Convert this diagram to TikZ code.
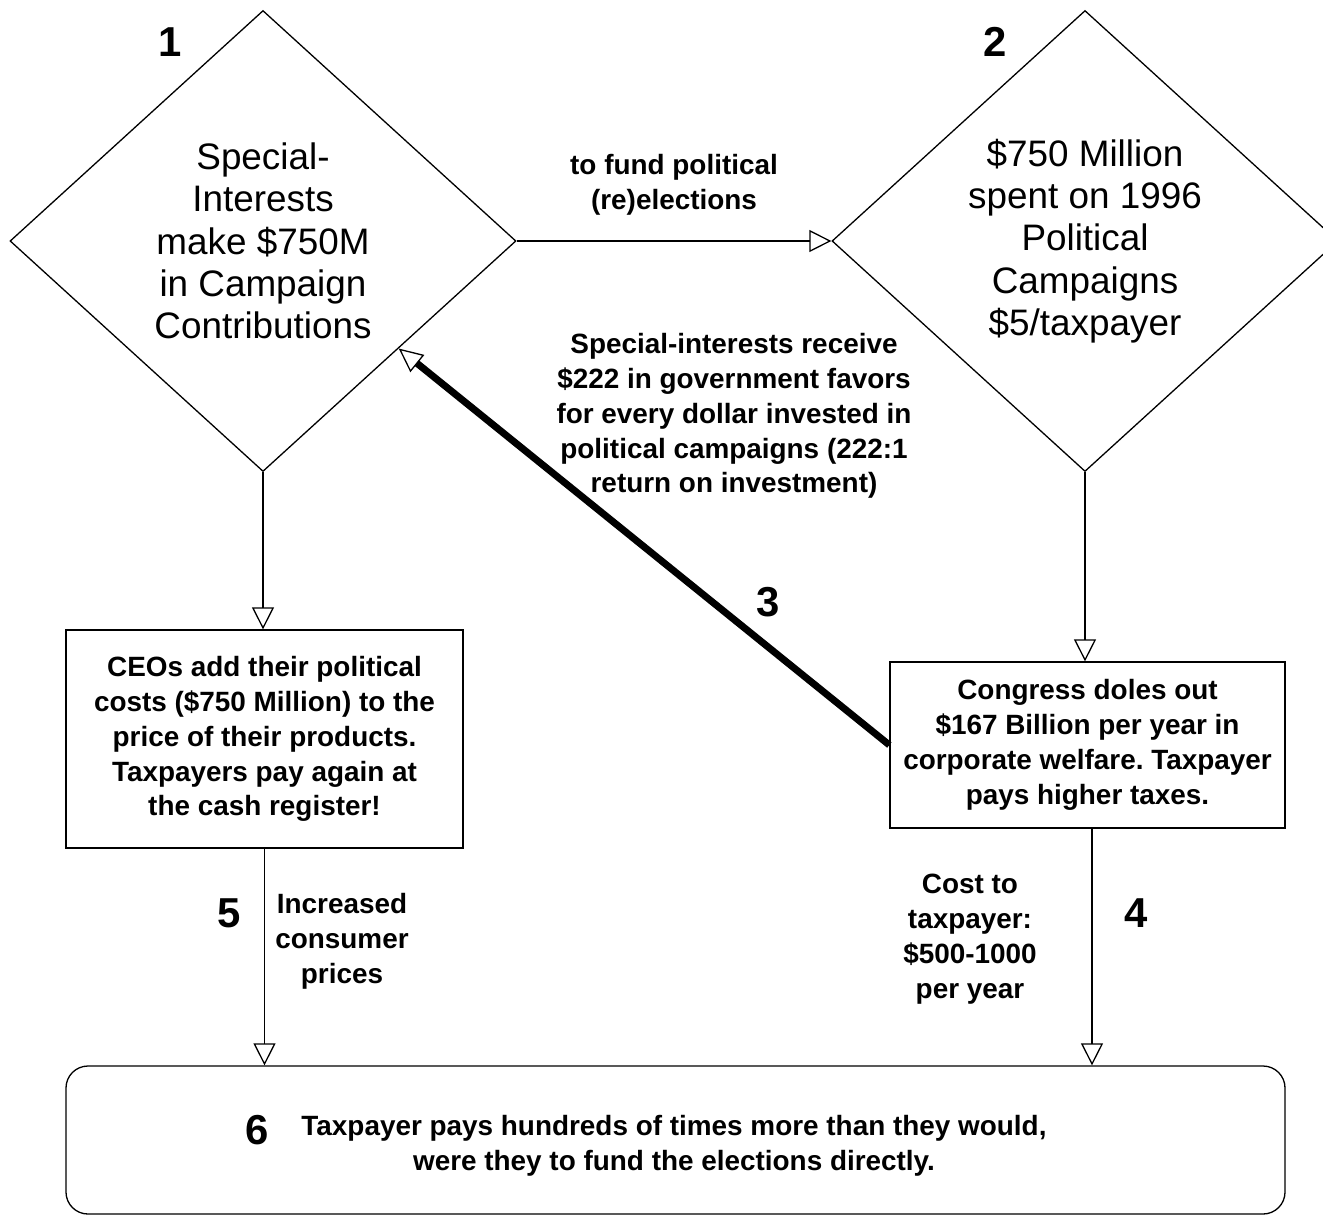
\documentclass[tikz,border=0pt]{standalone}
\usepackage{fontspec}
\setmainfont{Liberation Sans}
\usetikzlibrary{shapes.geometric,arrows.meta,calc}
\frenchspacing
\begin{document}
\begin{tikzpicture}[x=1bp,y=-1bp,
  line width=1.3bp,
  dia/.style={draw, shape=diamond, minimum width=506bp, minimum height=461bp, inner sep=0pt, align=center, font=\fontsize{37}{42.5}\selectfont},
  lbl/.style={align=center, font=\bfseries\fontsize{28}{35}\selectfont, inner sep=0pt},
  boxn/.style={draw, align=center, font=\bfseries\fontsize{28}{35}\selectfont, inner sep=0pt},
  num/.style={font=\bfseries\fontsize{42}{42}\selectfont, inner sep=0pt},
  arr/.style={-{Triangle[open,length=22bp,width=22bp]}},
  thickarr/.style={line width=7bp,-{Triangle[open,length=24bp,width=22bp,line width=1.3bp]}},
]
\useasboundingbox (0,0) rectangle (1323,1216);
\node[dia] (d1) at (263,241) {Special-\\Interests\\make \$750M\\in Campaign\\Contributions};
\node[dia] (d2) at (1085,241) {\$750 Million\\spent on 1996\\Political\\Campaigns\\\$5/taxpayer};
\node[boxn, minimum width=397bp, minimum height=218bp] (b1) at (264.5,739) {CEOs add their political\\costs (\$750 Million) to the\\price of their products.\\Taxpayers pay again at\\the cash register!};
\node[boxn, minimum width=395bp, minimum height=166bp] (b2) at (1087.5,745) {Congress doles out\\\$167 Billion per year in\\corporate welfare. Taxpayer\\pays higher taxes.};
\node[draw, rounded corners=22bp, minimum width=1219bp, minimum height=148bp, inner sep=0pt] (b3) at (675.5,1140) {};
\node[lbl] (t6) at (674,1146) {Taxpayer pays hundreds of times more than they would,\\were they to fund the elections directly.};

\node[lbl] (l12) at (674,185) {to fund political\\(re)elections};
\node[lbl] (lmid) at (734,416) {Special-interests receive\\\$222 in government favors\\for every dollar invested in\\political campaigns (222:1\\return on investment)};
\node[lbl] (l5) at (342,941) {Increased\\consumer\\prices};
\node[lbl] (l4) at (970,939) {Cost to\\taxpayer:\\\$500-1000\\per year};

\node[num] (n1) at (170,42) {1};
\node[num] (n2) at (995,42) {2};
\node[num] (n3) at (768,602) {3};
\node[num] (n4) at (1136,913) {4};
\node[num] (n5) at (229,913) {5};
\node[num] (n6) at (257,1130) {6};

\draw[arr] (d1.east) -- (d2.west);
\draw[arr] (d1.south) -- (d1.south |- b1.north);
\draw[arr] (d2.south) -- (d2.south |- b2.north);
\draw[arr] (b1.south) -- (b1.south |- b3.north);
\coordinate (b2s) at ([xshift=4.5bp]b2.south);
\draw[arr] (b2s) -- (b2s |- b3.north);
\coordinate (d1se) at ($(d1.east)!0.465!(d1.south)$);
\draw[thickarr] (b2.west) -- (d1se);
\end{tikzpicture}
\end{document}
